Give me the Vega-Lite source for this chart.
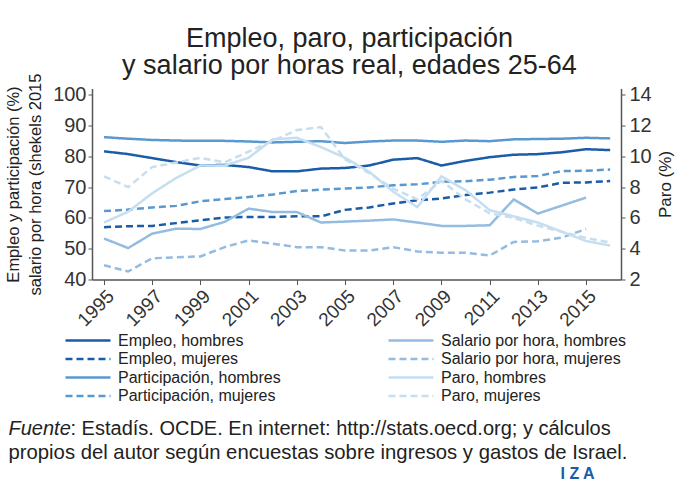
{
  "$schema": "https://vega.github.io/schema/vega-lite/v6.json",
  "width": 529,
  "height": 191,
  "autosize": "none",
  "padding": {"left": 92, "top": 88.5, "right": 76, "bottom": 205.5},
  "background": "white",
  "config": {
    "view": {"stroke": null},
    "font": "Liberation Sans",
    "axis": {"labelFont": "Liberation Sans", "titleFont": "Liberation Sans", "labelColor": "#333", "titleColor": "#222", "domainColor": "#555", "tickColor": "#555", "grid": false, "titleFontWeight": "normal"}
  },
  "title": {
    "text": ["Empleo, paro, participación", "y salario por horas real, edades 25-64"],
    "fontSize": 27,
    "fontWeight": "normal",
    "color": "#222",
    "lineHeight": 27,
    "anchor": "middle",
    "dx": -7,
    "offset": -7
  },
  "datasets": {
    "d": [
      {"year": 1995, "serie": "Empleo, hombres", "valor": 81.6},
      {"year": 1996, "serie": "Empleo, hombres", "valor": 80.7},
      {"year": 1997, "serie": "Empleo, hombres", "valor": 79.4},
      {"year": 1998, "serie": "Empleo, hombres", "valor": 78.1},
      {"year": 1999, "serie": "Empleo, hombres", "valor": 77.0},
      {"year": 2000, "serie": "Empleo, hombres", "valor": 77.2},
      {"year": 2001, "serie": "Empleo, hombres", "valor": 76.5},
      {"year": 2002, "serie": "Empleo, hombres", "valor": 75.1},
      {"year": 2003, "serie": "Empleo, hombres", "valor": 75.1},
      {"year": 2004, "serie": "Empleo, hombres", "valor": 76.0},
      {"year": 2005, "serie": "Empleo, hombres", "valor": 76.2},
      {"year": 2006, "serie": "Empleo, hombres", "valor": 77.0},
      {"year": 2007, "serie": "Empleo, hombres", "valor": 78.9},
      {"year": 2008, "serie": "Empleo, hombres", "valor": 79.4},
      {"year": 2009, "serie": "Empleo, hombres", "valor": 77.0},
      {"year": 2010, "serie": "Empleo, hombres", "valor": 78.5},
      {"year": 2011, "serie": "Empleo, hombres", "valor": 79.7},
      {"year": 2012, "serie": "Empleo, hombres", "valor": 80.5},
      {"year": 2013, "serie": "Empleo, hombres", "valor": 80.7},
      {"year": 2014, "serie": "Empleo, hombres", "valor": 81.3},
      {"year": 2015, "serie": "Empleo, hombres", "valor": 82.3},
      {"year": 2016, "serie": "Empleo, hombres", "valor": 82.0},
      {"year": 1995, "serie": "Empleo, mujeres", "valor": 57.0},
      {"year": 1996, "serie": "Empleo, mujeres", "valor": 57.3},
      {"year": 1997, "serie": "Empleo, mujeres", "valor": 57.4},
      {"year": 1998, "serie": "Empleo, mujeres", "valor": 58.3},
      {"year": 1999, "serie": "Empleo, mujeres", "valor": 59.2},
      {"year": 2000, "serie": "Empleo, mujeres", "valor": 60.1},
      {"year": 2001, "serie": "Empleo, mujeres", "valor": 60.3},
      {"year": 2002, "serie": "Empleo, mujeres", "valor": 60.3},
      {"year": 2003, "serie": "Empleo, mujeres", "valor": 60.5},
      {"year": 2004, "serie": "Empleo, mujeres", "valor": 60.5},
      {"year": 2005, "serie": "Empleo, mujeres", "valor": 62.6},
      {"year": 2006, "serie": "Empleo, mujeres", "valor": 63.4},
      {"year": 2007, "serie": "Empleo, mujeres", "valor": 64.7},
      {"year": 2008, "serie": "Empleo, mujeres", "valor": 65.7},
      {"year": 2009, "serie": "Empleo, mujeres", "valor": 66.3},
      {"year": 2010, "serie": "Empleo, mujeres", "valor": 67.4},
      {"year": 2011, "serie": "Empleo, mujeres", "valor": 68.2},
      {"year": 2012, "serie": "Empleo, mujeres", "valor": 69.2},
      {"year": 2013, "serie": "Empleo, mujeres", "valor": 69.9},
      {"year": 2014, "serie": "Empleo, mujeres", "valor": 71.4},
      {"year": 2015, "serie": "Empleo, mujeres", "valor": 71.5},
      {"year": 2016, "serie": "Empleo, mujeres", "valor": 72.0},
      {"year": 1995, "serie": "Participación, hombres", "valor": 86.2},
      {"year": 1996, "serie": "Participación, hombres", "valor": 85.7},
      {"year": 1997, "serie": "Participación, hombres", "valor": 85.3},
      {"year": 1998, "serie": "Participación, hombres", "valor": 85.1},
      {"year": 1999, "serie": "Participación, hombres", "valor": 85.0},
      {"year": 2000, "serie": "Participación, hombres", "valor": 85.0},
      {"year": 2001, "serie": "Participación, hombres", "valor": 84.8},
      {"year": 2002, "serie": "Participación, hombres", "valor": 84.5},
      {"year": 2003, "serie": "Participación, hombres", "valor": 84.7},
      {"year": 2004, "serie": "Participación, hombres", "valor": 84.9},
      {"year": 2005, "serie": "Participación, hombres", "valor": 84.3},
      {"year": 2006, "serie": "Participación, hombres", "valor": 84.8},
      {"year": 2007, "serie": "Participación, hombres", "valor": 85.1},
      {"year": 2008, "serie": "Participación, hombres", "valor": 85.1},
      {"year": 2009, "serie": "Participación, hombres", "valor": 84.7},
      {"year": 2010, "serie": "Participación, hombres", "valor": 85.1},
      {"year": 2011, "serie": "Participación, hombres", "valor": 84.9},
      {"year": 2012, "serie": "Participación, hombres", "valor": 85.5},
      {"year": 2013, "serie": "Participación, hombres", "valor": 85.6},
      {"year": 2014, "serie": "Participación, hombres", "valor": 85.7},
      {"year": 2015, "serie": "Participación, hombres", "valor": 86.0},
      {"year": 2016, "serie": "Participación, hombres", "valor": 85.8},
      {"year": 1995, "serie": "Participación, mujeres", "valor": 62.2},
      {"year": 1996, "serie": "Participación, mujeres", "valor": 62.7},
      {"year": 1997, "serie": "Participación, mujeres", "valor": 63.4},
      {"year": 1998, "serie": "Participación, mujeres", "valor": 63.9},
      {"year": 1999, "serie": "Participación, mujeres", "valor": 65.4},
      {"year": 2000, "serie": "Participación, mujeres", "valor": 66.1},
      {"year": 2001, "serie": "Participación, mujeres", "valor": 66.8},
      {"year": 2002, "serie": "Participación, mujeres", "valor": 67.6},
      {"year": 2003, "serie": "Participación, mujeres", "valor": 68.7},
      {"year": 2004, "serie": "Participación, mujeres", "valor": 69.2},
      {"year": 2005, "serie": "Participación, mujeres", "valor": 69.5},
      {"year": 2006, "serie": "Participación, mujeres", "valor": 69.9},
      {"year": 2007, "serie": "Participación, mujeres", "valor": 70.6},
      {"year": 2008, "serie": "Participación, mujeres", "valor": 70.9},
      {"year": 2009, "serie": "Participación, mujeres", "valor": 71.7},
      {"year": 2010, "serie": "Participación, mujeres", "valor": 71.9},
      {"year": 2011, "serie": "Participación, mujeres", "valor": 72.4},
      {"year": 2012, "serie": "Participación, mujeres", "valor": 73.3},
      {"year": 2013, "serie": "Participación, mujeres", "valor": 73.6},
      {"year": 2014, "serie": "Participación, mujeres", "valor": 75.2},
      {"year": 2015, "serie": "Participación, mujeres", "valor": 75.3},
      {"year": 2016, "serie": "Participación, mujeres", "valor": 75.7},
      {"year": 1995, "serie": "Salario por hora, hombres", "valor": 53.3},
      {"year": 1996, "serie": "Salario por hora, hombres", "valor": 50.2},
      {"year": 1997, "serie": "Salario por hora, hombres", "valor": 54.9},
      {"year": 1998, "serie": "Salario por hora, hombres", "valor": 56.5},
      {"year": 1999, "serie": "Salario por hora, hombres", "valor": 56.4},
      {"year": 2000, "serie": "Salario por hora, hombres", "valor": 58.7},
      {"year": 2001, "serie": "Salario por hora, hombres", "valor": 63.0},
      {"year": 2002, "serie": "Salario por hora, hombres", "valor": 61.9},
      {"year": 2003, "serie": "Salario por hora, hombres", "valor": 61.9},
      {"year": 2004, "serie": "Salario por hora, hombres", "valor": 58.5},
      {"year": 2005, "serie": "Salario por hora, hombres", "valor": 58.8},
      {"year": 2006, "serie": "Salario por hora, hombres", "valor": 59.1},
      {"year": 2007, "serie": "Salario por hora, hombres", "valor": 59.5},
      {"year": 2008, "serie": "Salario por hora, hombres", "valor": 58.5},
      {"year": 2009, "serie": "Salario por hora, hombres", "valor": 57.4},
      {"year": 2010, "serie": "Salario por hora, hombres", "valor": 57.4},
      {"year": 2011, "serie": "Salario por hora, hombres", "valor": 57.6},
      {"year": 2012, "serie": "Salario por hora, hombres", "valor": 66.0},
      {"year": 2013, "serie": "Salario por hora, hombres", "valor": 61.4},
      {"year": 2014, "serie": "Salario por hora, hombres", "valor": 64.0},
      {"year": 2015, "serie": "Salario por hora, hombres", "valor": 66.6},
      {"year": 1995, "serie": "Salario por hora, mujeres", "valor": 44.6},
      {"year": 1996, "serie": "Salario por hora, mujeres", "valor": 42.6},
      {"year": 1997, "serie": "Salario por hora, mujeres", "valor": 46.9},
      {"year": 1998, "serie": "Salario por hora, mujeres", "valor": 47.2},
      {"year": 1999, "serie": "Salario por hora, mujeres", "valor": 47.5},
      {"year": 2000, "serie": "Salario por hora, mujeres", "valor": 50.5},
      {"year": 2001, "serie": "Salario por hora, mujeres", "valor": 52.7},
      {"year": 2002, "serie": "Salario por hora, mujeres", "valor": 51.6},
      {"year": 2003, "serie": "Salario por hora, mujeres", "valor": 50.5},
      {"year": 2004, "serie": "Salario por hora, mujeres", "valor": 50.5},
      {"year": 2005, "serie": "Salario por hora, mujeres", "valor": 49.4},
      {"year": 2006, "serie": "Salario por hora, mujeres", "valor": 49.4},
      {"year": 2007, "serie": "Salario por hora, mujeres", "valor": 50.5},
      {"year": 2008, "serie": "Salario por hora, mujeres", "valor": 49.1},
      {"year": 2009, "serie": "Salario por hora, mujeres", "valor": 48.7},
      {"year": 2010, "serie": "Salario por hora, mujeres", "valor": 48.7},
      {"year": 2011, "serie": "Salario por hora, mujeres", "valor": 47.8},
      {"year": 2012, "serie": "Salario por hora, mujeres", "valor": 52.2},
      {"year": 2013, "serie": "Salario por hora, mujeres", "valor": 52.4},
      {"year": 2014, "serie": "Salario por hora, mujeres", "valor": 53.6},
      {"year": 2015, "serie": "Salario por hora, mujeres", "valor": 56.4},
      {"year": 1995, "serie": "Paro, hombres", "valor": 5.7},
      {"year": 1996, "serie": "Paro, hombres", "valor": 6.4},
      {"year": 1997, "serie": "Paro, hombres", "valor": 7.6},
      {"year": 1998, "serie": "Paro, hombres", "valor": 8.6},
      {"year": 1999, "serie": "Paro, hombres", "valor": 9.4},
      {"year": 2000, "serie": "Paro, hombres", "valor": 9.4},
      {"year": 2001, "serie": "Paro, hombres", "valor": 9.9},
      {"year": 2002, "serie": "Paro, hombres", "valor": 11.1},
      {"year": 2003, "serie": "Paro, hombres", "valor": 11.2},
      {"year": 2004, "serie": "Paro, hombres", "valor": 10.6},
      {"year": 2005, "serie": "Paro, hombres", "valor": 9.9},
      {"year": 2006, "serie": "Paro, hombres", "valor": 9.0},
      {"year": 2007, "serie": "Paro, hombres", "valor": 7.7},
      {"year": 2008, "serie": "Paro, hombres", "valor": 6.7},
      {"year": 2009, "serie": "Paro, hombres", "valor": 8.7},
      {"year": 2010, "serie": "Paro, hombres", "valor": 7.8},
      {"year": 2011, "serie": "Paro, hombres", "valor": 6.5},
      {"year": 2012, "serie": "Paro, hombres", "valor": 6.1},
      {"year": 2013, "serie": "Paro, hombres", "valor": 5.7},
      {"year": 2014, "serie": "Paro, hombres", "valor": 5.1},
      {"year": 2015, "serie": "Paro, hombres", "valor": 4.5},
      {"year": 2016, "serie": "Paro, hombres", "valor": 4.2},
      {"year": 1995, "serie": "Paro, mujeres", "valor": 8.7},
      {"year": 1996, "serie": "Paro, mujeres", "valor": 8.0},
      {"year": 1997, "serie": "Paro, mujeres", "valor": 9.3},
      {"year": 1998, "serie": "Paro, mujeres", "valor": 9.6},
      {"year": 1999, "serie": "Paro, mujeres", "valor": 9.9},
      {"year": 2000, "serie": "Paro, mujeres", "valor": 9.6},
      {"year": 2001, "serie": "Paro, mujeres", "valor": 10.3},
      {"year": 2002, "serie": "Paro, mujeres", "valor": 11.0},
      {"year": 2003, "serie": "Paro, mujeres", "valor": 11.7},
      {"year": 2004, "serie": "Paro, mujeres", "valor": 11.9},
      {"year": 2005, "serie": "Paro, mujeres", "valor": 9.8},
      {"year": 2006, "serie": "Paro, mujeres", "valor": 8.9},
      {"year": 2007, "serie": "Paro, mujeres", "valor": 7.9},
      {"year": 2008, "serie": "Paro, mujeres", "valor": 7.2},
      {"year": 2009, "serie": "Paro, mujeres", "valor": 8.4},
      {"year": 2010, "serie": "Paro, mujeres", "valor": 7.2},
      {"year": 2011, "serie": "Paro, mujeres", "valor": 6.3},
      {"year": 2012, "serie": "Paro, mujeres", "valor": 6.0},
      {"year": 2013, "serie": "Paro, mujeres", "valor": 5.5},
      {"year": 2014, "serie": "Paro, mujeres", "valor": 5.1},
      {"year": 2015, "serie": "Paro, mujeres", "valor": 4.7},
      {"year": 2016, "serie": "Paro, mujeres", "valor": 4.4}
    ]
  },
  "data": {"name": "d"},
  "layer": [
    {
      "transform": [{"filter": {"field": "serie", "oneOf": ["Empleo, hombres", "Empleo, mujeres", "Participación, hombres", "Participación, mujeres"]}}],
      "mark": {"type": "line", "strokeWidth": 2.5},
      "encoding": {
        "x": {"field": "year", "type": "quantitative", "scale": {"domain": [1994.5, 2016.45], "nice": false, "zero": false},
          "axis": {"orient": "bottom", "values": [1995, 1997, 1999, 2001, 2003, 2005, 2007, 2009, 2011, 2013, 2015], "format": "d", "labelAngle": -45, "labelFontSize": 19, "tickSize": 5, "domainWidth": 1.5,
            "title": ": Estadís. OCDE. En internet: http://stats.oecd.org; y cálculos", "titleX": -22, "titleY": 154.5, "titleAlign": "left", "titleAnchor": "start", "titleBaseline": "alphabetic", "titleFontSize": 20}},
        "y": {"field": "valor", "type": "quantitative", "scale": {"domain": [40, 102], "nice": false, "zero": false},
          "axis": {"orient": "left", "values": [40, 50, 60, 70, 80, 90, 100], "labelFontSize": 20, "tickSize": 4, "labelPadding": 2, "domainWidth": 1.5,
            "title": ["Empleo y participación (%)", "salario por hora (shekels 2015"], "titleFontSize": 16.5, "titleLineHeight": 22, "titleAngle": 270, "titleX": -79, "titleY": 95.5, "titleAlign": "center", "titleBaseline": "middle"}},
        "color": {"field": "serie", "type": "nominal",
          "scale": {"domain": ["Empleo, hombres", "Empleo, mujeres", "Participación, hombres", "Participación, mujeres", "Salario por hora, hombres", "Salario por hora, mujeres", "Paro, hombres", "Paro, mujeres"],
            "range": ["#1a5ca8", "#1a5ca8", "#5a98d0", "#5a98d0", "#93bce0", "#93bce0", "#c5def0", "#c5def0"]},
          "legend": {"orient": "none", "legendX": -28, "legendY": 244, "columns": 2, "columnPadding": 106, "rowPadding": 2.5, "clipHeight": 16, "symbolType": "stroke", "symbolSize": 2025, "symbolStrokeWidth": 2.5, "labelFontSize": 16, "labelFont": "Liberation Sans", "labelColor": "#222", "labelOffset": 6, "title": null, "padding": 0, "labelLimit": 300}},
        "strokeDash": {"field": "serie", "type": "nominal",
          "scale": {"domain": ["Empleo, hombres", "Empleo, mujeres", "Participación, hombres", "Participación, mujeres", "Salario por hora, hombres", "Salario por hora, mujeres", "Paro, hombres", "Paro, mujeres"],
            "range": [[1, 0], [7, 4], [1, 0], [7, 4], [1, 0], [7, 4], [1, 0], [7, 4]]},
          "legend": {"orient": "none", "legendX": -28, "legendY": 244, "columns": 2, "columnPadding": 106, "rowPadding": 2.5, "clipHeight": 16, "symbolType": "stroke", "symbolSize": 2025, "symbolStrokeWidth": 2.5, "labelFontSize": 16, "labelFont": "Liberation Sans", "labelColor": "#222", "labelOffset": 6, "title": null, "padding": 0, "labelLimit": 300}}
      }
    },
    {
      "transform": [{"filter": {"field": "serie", "oneOf": ["Salario por hora, hombres", "Salario por hora, mujeres"]}}],
      "mark": {"type": "line", "strokeWidth": 2.5},
      "encoding": {
        "x": {"field": "year", "type": "quantitative", "scale": {"domain": [1994.5, 2016.45], "nice": false, "zero": false},
          "axis": {"orient": "bottom", "labels": false, "ticks": false, "domain": false, "title": "Fuente", "titleFontStyle": "italic", "titleX": -84, "titleY": 154.5, "titleAlign": "left", "titleAnchor": "start", "titleBaseline": "alphabetic", "titleFontSize": 20}},
        "y": {"field": "valor", "type": "quantitative", "scale": {"domain": [40, 102], "nice": false, "zero": false},
          "axis": {"orient": "left", "labels": false, "ticks": false, "domain": false, "title": "I Z A", "titleAngle": 0, "titleX": 468, "titleY": 389.5, "titleAlign": "left", "titleBaseline": "alphabetic", "titleColor": "#1a5ca8", "titleFontSize": 16, "titleFontWeight": "bold"}},
        "color": {"field": "serie", "type": "nominal"},
        "strokeDash": {"field": "serie", "type": "nominal"}
      }
    },
    {
      "transform": [{"filter": {"field": "serie", "oneOf": ["Paro, hombres", "Paro, mujeres"]}}],
      "mark": {"type": "line", "strokeWidth": 2.5},
      "encoding": {
        "x": {"field": "year", "type": "quantitative", "scale": {"domain": [1994.5, 2016.45], "nice": false, "zero": false},
          "axis": {"orient": "bottom", "labels": false, "ticks": false, "domain": false, "title": "propios del autor según encuestas sobre ingresos y gastos de Israel.", "titleX": -84, "titleY": 178.5, "titleAlign": "left", "titleAnchor": "start", "titleBaseline": "alphabetic", "titleFontSize": 20.3}},
        "y": {"field": "valor", "type": "quantitative", "scale": {"domain": [2, 14.4], "nice": false, "zero": false},
          "axis": {"orient": "right", "values": [2, 4, 6, 8, 10, 12, 14], "labelFontSize": 20, "tickSize": 4, "labelPadding": 4, "domainWidth": 1.5,
            "title": "Paro (%)", "titleFontSize": 17, "titleAngle": 270, "titleX": 44, "titleY": 95.5, "titleAlign": "center", "titleBaseline": "middle"}},
        "color": {"field": "serie", "type": "nominal"},
        "strokeDash": {"field": "serie", "type": "nominal"}
      }
    }
  ],
  "resolve": {"scale": {"y": "independent"}, "axis": {"x": "independent", "y": "independent"}}
}
